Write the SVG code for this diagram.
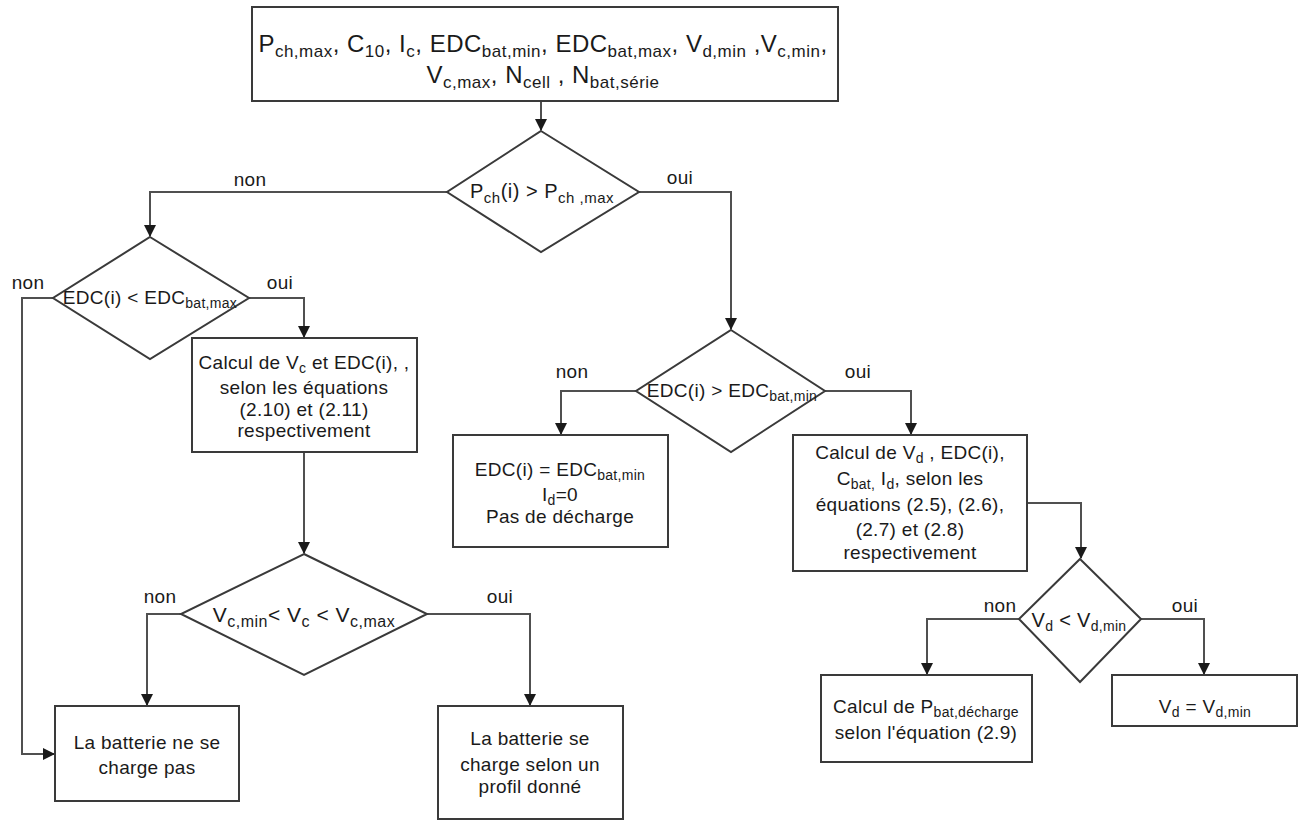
<svg xmlns="http://www.w3.org/2000/svg" width="1304" height="823" viewBox="0 0 1304 823">
<style>
.bx{fill:#fff;stroke:#3a3a3a;stroke-width:2}
.ln{fill:none;stroke:#505050;stroke-width:2}
text{font-family:"Liberation Sans",Arial,sans-serif;fill:#1a1a1a;text-anchor:middle;letter-spacing:0.3px}
.t{font-size:19px}
.s{font-size:14px}
.big{font-size:24px;letter-spacing:0.5px}
.bs{font-size:17px}
.lb{font-size:19px}
</style>
<defs>
<marker id="ar" markerUnits="userSpaceOnUse" markerWidth="12" markerHeight="12" refX="11" refY="6" orient="auto">
<path d="M0,0 L12,6 L0,12 z" fill="#1a1a1a"/>
</marker>
</defs>
<rect width="1304" height="823" fill="#fff"/>
<g id="connectors">
<path class="ln" d="M541,101 V130" marker-end="url(#ar)"/>
<path class="ln" d="M447,192 H150 V236" marker-end="url(#ar)"/>
<path class="ln" d="M639,192 H731 V329" marker-end="url(#ar)"/>
<path class="ln" d="M53,298 H22 V754 H54" marker-end="url(#ar)"/>
<path class="ln" d="M249,298 H304 V337" marker-end="url(#ar)"/>
<path class="ln" d="M304,452 V553" marker-end="url(#ar)"/>
<path class="ln" d="M181,614 H147 V705" marker-end="url(#ar)"/>
<path class="ln" d="M427,614 H530 V705" marker-end="url(#ar)"/>
<path class="ln" d="M636,391 H561 V434" marker-end="url(#ar)"/>
<path class="ln" d="M825,391 H911 V434" marker-end="url(#ar)"/>
<path class="ln" d="M1027,503 H1081 V558" marker-end="url(#ar)"/>
<path class="ln" d="M1019,619 H927 V674" marker-end="url(#ar)"/>
<path class="ln" d="M1141,619 H1204 V674" marker-end="url(#ar)"/>
<text class="lb" x="250" y="186">non</text>
<text class="lb" x="680" y="184">oui</text>
<text class="lb" x="28" y="289">non</text>
<text class="lb" x="280" y="289">oui</text>
<text class="lb" x="160" y="603">non</text>
<text class="lb" x="500" y="603">oui</text>
<text class="lb" x="572" y="378">non</text>
<text class="lb" x="858" y="378">oui</text>
<text class="lb" x="1000" y="612">non</text>
<text class="lb" x="1185" y="612">oui</text>
</g>
<g id="n_inputs">
<rect class="bx" x="252" y="7" width="586" height="94"/>
<text class="big" x="543" y="52">P<tspan class="bs" dy="5">ch,max</tspan><tspan dy="-5">, C</tspan><tspan class="bs" dy="5">10</tspan><tspan dy="-5">, I</tspan><tspan class="bs" dy="5">c</tspan><tspan dy="-5">, EDC</tspan><tspan class="bs" dy="5">bat,min</tspan><tspan dy="-5">, EDC</tspan><tspan class="bs" dy="5">bat,max</tspan><tspan dy="-5">, V</tspan><tspan class="bs" dy="5">d,min</tspan><tspan dy="-5"> ,V</tspan><tspan class="bs" dy="5">c,min</tspan><tspan dy="-5">,</tspan></text>
<text class="big" x="543" y="83">V<tspan class="bs" dy="5">c,max</tspan><tspan dy="-5">, N</tspan><tspan class="bs" dy="5">cell</tspan><tspan dy="-5"> , N</tspan><tspan class="bs" dy="5">bat,série</tspan></text>
</g>
<g id="d_pch">
<polygon class="bx" points="541,131 639,192 541,252 447,192"/>
<text style="font-size:20px;letter-spacing:0.5px" x="542" y="198">P<tspan class="s" style="font-size:15px" dy="5">ch</tspan><tspan dy="-5">(i) &gt; P</tspan><tspan style="font-size:15px" dy="5">ch ,max</tspan></text>
</g>
<g id="d_edcmax">
<polygon class="bx" points="150,237 249,298 150,359 53,298"/>
<text class="t" x="150" y="304">EDC(i) &lt; EDC<tspan class="s" dy="4">bat,max</tspan></text>
</g>
<g id="n_calc_c">
<rect class="bx" x="192" y="338" width="225" height="114"/>
<text class="t" x="304" y="369">Calcul de V<tspan class="s" dy="4">c</tspan><tspan dy="-4"> et EDC(i),  ,</tspan></text>
<text class="t" x="304" y="394">selon les équations</text>
<text class="t" x="304" y="416">(2.10) et (2.11)</text>
<text class="t" x="304" y="437">respectivement</text>
</g>
<g id="d_vc">
<polygon class="bx" points="304,554 427,614 304,675 181,614"/>
<text style="font-size:21px;letter-spacing:0.5px" x="304" y="622">V<tspan style="font-size:16px" dy="5">c,min</tspan><tspan dy="-5">&lt; V</tspan><tspan style="font-size:16px" dy="5">c</tspan><tspan dy="-5"> &lt; V</tspan><tspan style="font-size:16px" dy="5">c,max</tspan></text>
</g>
<g id="n_nocharge">
<rect class="bx" x="55" y="706" width="184" height="95"/>
<text class="t" x="147" y="749">La batterie ne se</text>
<text class="t" x="147" y="774">charge pas</text>
</g>
<g id="n_charge">
<rect class="bx" x="438" y="706" width="185" height="113"/>
<text class="t" x="530" y="745">La batterie se</text>
<text class="t" x="530" y="771">charge selon un</text>
<text class="t" x="530" y="793">profil donné</text>
</g>
<g id="d_edcmin">
<polygon class="bx" points="731,330 825,391 731,452 636,391"/>
<text class="t" x="732" y="397">EDC(i) &gt; EDC<tspan class="s" dy="4">bat,min</tspan></text>
</g>
<g id="n_edcmin">
<rect class="bx" x="453" y="435" width="215" height="112"/>
<text class="t" x="560" y="476">EDC(i) = EDC<tspan class="s" dy="4">bat,min</tspan></text>
<text class="t" x="560" y="501">I<tspan class="s" dy="4">d</tspan><tspan dy="-4">=0</tspan></text>
<text class="t" x="560" y="523">Pas de décharge</text>
</g>
<g id="n_calc_d">
<rect class="bx" x="793" y="435" width="234" height="136"/>
<text class="t" x="910" y="459">Calcul de V<tspan class="s" dy="4">d</tspan><tspan dy="-4"> , EDC(i),</tspan></text>
<text class="t" x="910" y="485">C<tspan class="s" dy="4">bat,</tspan><tspan dy="-4"> I</tspan><tspan class="s" dy="4">d</tspan><tspan dy="-4">,  selon les</tspan></text>
<text class="t" x="910" y="511">équations (2.5), (2.6),</text>
<text class="t" x="910" y="536">(2.7) et (2.8)</text>
<text class="t" x="910" y="559">respectivement</text>
</g>
<g id="d_vd">
<polygon class="bx" points="1080,559 1141,619 1080,682 1019,619"/>
<text style="font-size:20px;letter-spacing:0.3px" x="1079" y="627">V<tspan class="s" dy="4">d</tspan><tspan dy="-4"> &lt; V</tspan><tspan class="s" dy="4">d,min</tspan></text>
</g>
<g id="n_pbat">
<rect class="bx" x="821" y="675" width="211" height="87"/>
<text class="t" x="926" y="713">Calcul de P<tspan class="s" dy="4">bat,décharge</tspan></text>
<text class="t" x="926" y="739">selon l'équation (2.9)</text>
</g>
<g id="n_vdmin">
<rect class="bx" x="1112" y="675" width="185" height="51"/>
<text class="t" x="1205" y="713">V<tspan class="s" dy="4">d</tspan><tspan dy="-4"> = V</tspan><tspan class="s" dy="4">d,min</tspan></text>
</g>
</svg>
